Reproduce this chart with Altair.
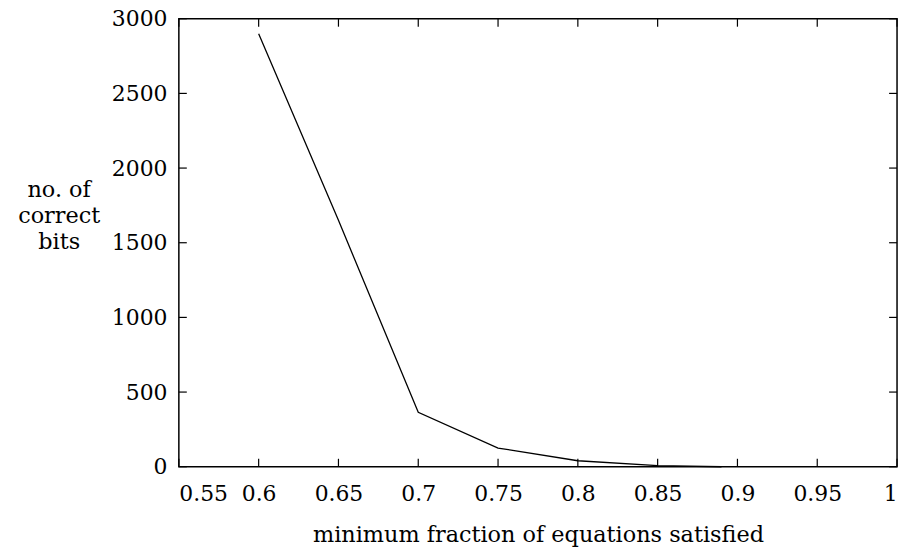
import altair as alt
import pandas as pd

x_vals = [0.6, 0.65, 0.7, 0.75, 0.8, 0.85, 0.89]
y_vals = [2900, 1650, 365, 125, 40, 8, 0]
x_ticks = [0.55, 0.6, 0.65, 0.7, 0.75, 0.8, 0.85, 0.9, 0.95, 1.0]
y_ticks = [0, 500, 1000, 1500, 2000, 2500, 3000]

W, H = 723, 451
FONT = "DejaVu Serif"
FS = 22
TFS = 22.5
TL = 8

df = pd.DataFrame({"x": x_vals, "y": y_vals})
xt = pd.DataFrame({"x": x_ticks})
yt = pd.DataFrame({"y": y_ticks})

xscale = alt.Scale(domain=[0.55, 1.0], nice=False, zero=False)
yscale = alt.Scale(domain=[0, 3000], nice=False)

line = alt.Chart(df).mark_line(color="black", strokeWidth=1.3).encode(
    x=alt.X("x:Q", scale=xscale,
            axis=alt.Axis(values=x_ticks, format="~g", title="minimum fraction of equations satisfied",
                          ticks=False, grid=False, domain=False, labelPadding=17,
                          labelFont=FONT, labelFontSize=FS, labelColor="black",
                          titleFont=FONT, titleFontSize=TFS, titleFontWeight="normal",
                          titleColor="black", titlePadding=19)),
    y=alt.Y("y:Q", scale=yscale,
            axis=alt.Axis(values=y_ticks, format="d", title=["no. of", "correct", "bits"],
                          ticks=False, grid=False, domain=False, labelPadding=12,
                          labelFont=FONT, labelFontSize=FS, labelColor="black",
                          titleFont=FONT, titleFontSize=TFS, titleFontWeight="normal",
                          titleColor="black", titleAngle=0, titleAlign="center",
                          titleBaseline="middle", titleX=-121, titleY=H * 0.44 - 26,
                          titleLineHeight=26)),
)

tick_style = dict(color="black", strokeWidth=1.2)
bx = alt.Chart(xt).mark_rule(**tick_style).encode(
    x=alt.X("x:Q", scale=xscale), y=alt.value(H), y2=alt.value(H - TL))
tx = alt.Chart(xt).mark_rule(**tick_style).encode(
    x=alt.X("x:Q", scale=xscale), y=alt.value(0), y2=alt.value(TL))
ly = alt.Chart(yt).mark_rule(**tick_style).encode(
    y=alt.Y("y:Q", scale=yscale), x=alt.value(0), x2=alt.value(TL))
ry = alt.Chart(yt).mark_rule(**tick_style).encode(
    y=alt.Y("y:Q", scale=yscale), x=alt.value(W), x2=alt.value(W - TL))

chart = alt.layer(bx, tx, ly, ry, line).properties(
    width=W, height=H,
    background="white",
    autosize=alt.AutoSizeParams(type="none"),
    padding={"left": 172, "top": 9, "right": 6, "bottom": 80},
).configure_view(stroke="black", strokeWidth=1.5)

chart.save("out.html", embed_options={"renderer": "svg", "actions": False})
